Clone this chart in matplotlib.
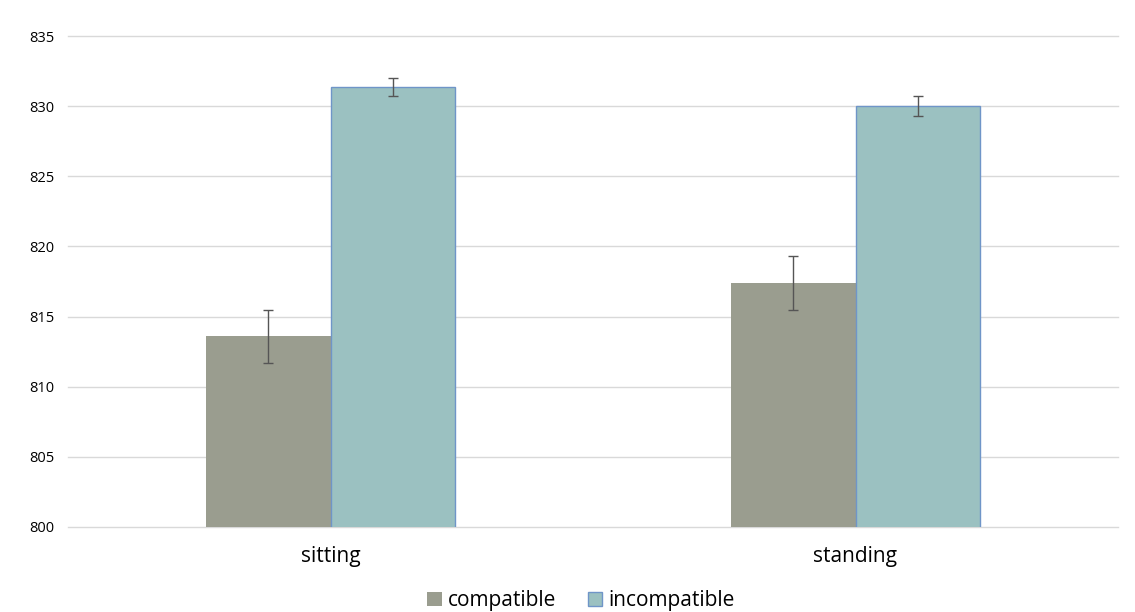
import numpy as np
import matplotlib
matplotlib.use("Agg")
import matplotlib.pyplot as plt

plt.rcParams["font.family"] = ["Open Sans", "DejaVu Sans"]

categories = ["sitting", "standing"]
compatible = [813.6, 817.4]
compatible_err = [1.9, 1.9]
incompatible = [831.35, 830.0]
incompatible_err = [0.65, 0.7]

fig = plt.figure(figsize=(11.35, 6.12), dpi=100)
ax = fig.add_axes([68 / 1135, 85 / 612, 1050 / 1135, 491 / 612])

x = np.arange(len(categories))
w = 0.238
err_kw = dict(ecolor="#555555", elinewidth=1, capsize=3.5, capthick=1)

ax.bar(x - w / 2, compatible, w, yerr=compatible_err, color="#9a9d8f",
       label="compatible", error_kw=err_kw, zorder=2)
ax.bar(x + w / 2, incompatible, w, yerr=incompatible_err, color="#9bc1c1",
       edgecolor="#6f95c8", linewidth=1, label="incompatible",
       error_kw=err_kw, zorder=2)

ax.set_xlim(-0.5, 1.5)
ax.set_ylim(800, 835)
ax.set_yticks(np.arange(800, 836, 5))
ax.set_xticks(x)
ax.set_xticklabels(categories, fontsize=15)
ax.tick_params(axis="y", labelsize=10.5, length=0, pad=10)
ax.tick_params(axis="x", length=0, pad=14)
ax.grid(axis="y", color="#d9d9d9", linewidth=1, zorder=0)
for line in ax.get_ygridlines():
    line.set_clip_on(False)
for s in ax.spines.values():
    s.set_visible(False)

ax.legend(loc="center", bbox_to_anchor=(0.4886, -0.15), ncol=2,
          frameon=False, fontsize=15, handlelength=0.7, handleheight=0.7,
          handletextpad=0.3, columnspacing=1.5)

fig.savefig("out.png", dpi=100)
